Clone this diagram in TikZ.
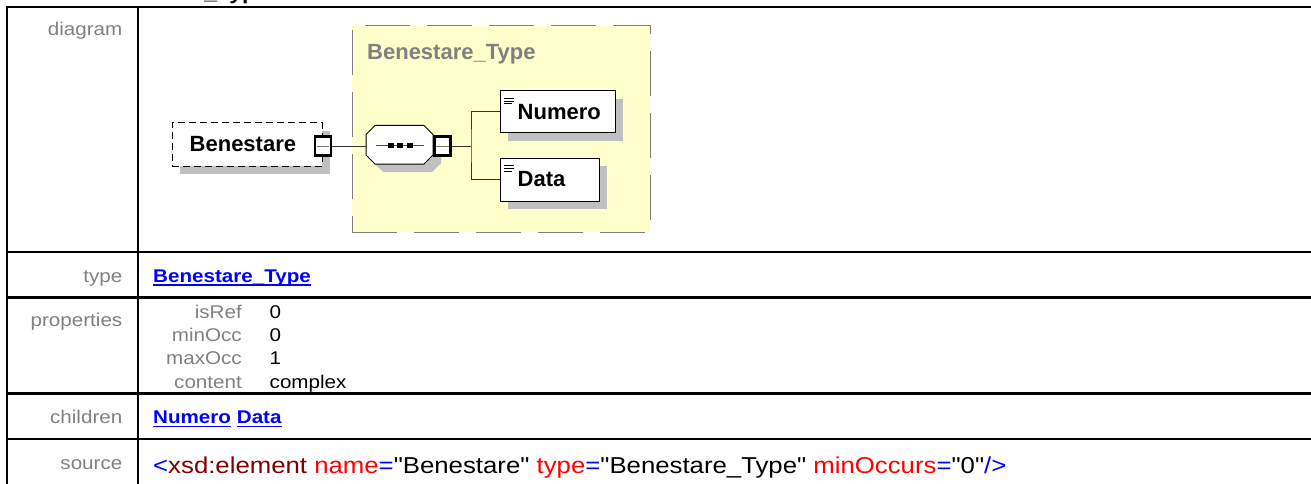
\documentclass[tikz,border=0pt]{standalone}
\usepackage{fontspec}
\setmainfont{Liberation Sans}
\newfontfamily\tblfont[FakeStretch=1.12]{Liberation Sans}
\usetikzlibrary{calc,shadows}
\definecolor{lblgray}{RGB}{128,128,128}
\definecolor{shadgray}{RGB}{192,192,192}
\definecolor{boxyellow}{RGB}{255,255,204}
\definecolor{xmaroon}{RGB}{128,0,0}
\definecolor{xred}{RGB}{255,0,0}
\definecolor{xblue}{RGB}{0,0,255}
\newcommand\qq{\symbol{34}}
\tikzset{
  tblline/.style={line width=2.6pt, black},
  rowlabel/.style={anchor=base east, inner sep=0, text=lblgray, font=\tblfont\fontsize{18.4}{22}\selectfont},
  propval/.style={anchor=base west, inner sep=0, text=black, font=\tblfont\fontsize{18.4}{22}\selectfont},
  link/.style={anchor=base west, inner sep=0, text=xblue, font=\tblfont\bfseries\fontsize{18.4}{22}\selectfont},
  uline/.style={xblue, line width=1.6pt},
  shad/.style={drop shadow={shadow xshift=8pt, shadow yshift=-8pt, fill=shadgray, opacity=1}},
  elembox/.style={draw=black, fill=white, line width=1pt, inner sep=0, shad},
  etext/.style={anchor=west, inner sep=0, font=\bfseries\fontsize{22}{26}\selectfont},
  minusbox/.style={draw=black, fill=white, line width=2.6pt, minimum width=16pt, minimum height=19pt, inner sep=0},
  minusline/.style={line width=1pt, black!55},
  conn/.style={line width=1pt, black!80},
  iconline/.style={line width=0.8pt, black},
}
\begin{document}
\begin{tikzpicture}[x=1pt,y=-1pt]
\useasboundingbox (0,0) rectangle (1311,484);

% cut-off title
\node[anchor=base west, inner sep=0, font=\tblfont\bfseries\fontsize{20.5}{24}\selectfont] (title) at (0,-0.5) {element Benestare\_Type/Benestare};

% table grid
\draw[tblline] (7,490) -- (7,7) -- (1320,7);
\draw[tblline] (138,7) -- (138,490);
\draw[tblline] (7,252) -- (1320,252);
\draw[tblline] (7,297.5) -- (1320,297.5);
\draw[tblline] (7,393.5) -- (1320,393.5);
\draw[tblline] (7,439) -- (1320,439);

% row labels
\node[rowlabel] (ldiag) at (122.5,36) {diagram};
\node[rowlabel] (ltype) at (122.5,282) {type};
\node[rowlabel] (lprop) at (122.5,326) {properties};
\node[rowlabel] (lchil) at (122.5,423) {children};
\node[rowlabel] (lsrc) at (122.5,469) {source};

% type
\node[link] (tlink) at (153,282) {Benestare\_Type};
\draw[uline] ($(tlink.base west)+(0,3)$) -- ($(tlink.base east)+(0,3)$);

% properties
\node[rowlabel] (k1) at (242,318) {isRef};
\node[rowlabel] (k2) at (242,341.3) {minOcc};
\node[rowlabel] (k3) at (242,364.6) {maxOcc};
\node[rowlabel] (k4) at (242,388) {content};
\node[propval] (v1) at (269.5,318) {0};
\node[propval] (v2) at (269.5,341.3) {0};
\node[propval] (v3) at (269.5,364.6) {1};
\node[propval] (v4) at (269.5,388) {complex};

% children
\node[link] (cnum) at (153,423) {Numero};
\node[link] (cdat) at (236.7,423) {Data};
\draw[uline] ($(cnum.base west)+(0,3.5)$) -- ($(cnum.base east)+(0,3.5)$);
\draw[uline] ($(cdat.base west)+(0,3.5)$) -- ($(cdat.base east)+(0,3.5)$);

% source
\node[anchor=base west, inner sep=0, font=\tblfont\fontsize{23}{27}\selectfont] (src) at (153,473) {\textcolor{xblue}{<}\textcolor{xmaroon}{xsd:element} \textcolor{xred}{name}\textcolor{xblue}{=}\qq Benestare\qq\ \textcolor{xred}{type}\textcolor{xblue}{=}\qq Benestare\_Type\qq\ \textcolor{xred}{minOccurs}\textcolor{xblue}{=}\qq 0\qq\textcolor{xblue}{/>}};

% ---------- diagram ----------
\node[draw=lblgray, fill=boxyellow, dash pattern=on 45pt off 17pt, line width=1pt, minimum width=298pt, minimum height=206pt, inner sep=0] (ctype) at (501,129) {};
\node[anchor=base west, inner sep=0, text=lblgray, font=\bfseries\fontsize{22}{26}\selectfont] (ctitle) at (367,60) {Benestare\_Type};

% Benestare element (optional: dashed)
\node[elembox, dash pattern=on 7pt off 4pt, minimum width=150pt, minimum height=43pt] (ben) at (247,144.5) {};
\node[etext] (bentext) at ([xshift=18pt]ben.west) {Benestare};
\node[minusbox] (m1) at (323,146) {};
\draw[minusline] ([xshift=3pt]m1.west) -- ([xshift=-3pt]m1.east);

% sequence compositor (octagon)
\fill[shadgray] (383,133.5) -- (432,133.5) -- (441,142.5) -- (441,163) -- (432,172) -- (383,172) -- (374,163) -- (374,142.5) -- cycle;
\filldraw[fill=white, draw=black, line width=1pt] (375,125.5) -- (424,125.5) -- (433,134.5) -- (433,155) -- (424,164) -- (375,164) -- (366,155) -- (366,134.5) -- cycle;
\coordinate (octW) at (366,146);
\coordinate (octE) at (433,146);
\coordinate (seqA) at (376,145);
\coordinate (seqB) at (424,145);
\draw[line width=1pt, black!70] (seqA) -- (seqB);
\foreach \cx in {390.5,400,409.5} {\fill[black] (\cx-3,142.5) rectangle (\cx+3,147.5);}
\node[minusbox] (m2) at (442.5,146) {};
\draw[minusline] ([xshift=3pt]m2.west) -- ([xshift=-3pt]m2.east);

% children elements
\node[elembox, minimum width=115pt, minimum height=42pt] (num) at (557.5,112) {};
\node[etext] (numtext) at ([xshift=18pt]num.west) {Numero};
\node[elembox, minimum width=99pt, minimum height=43pt] (dat) at (549.5,179.5) {};
\node[etext] (dattext) at ([xshift=18pt]dat.west) {Data};
\foreach \b in {num,dat} {
  \draw[iconline] ($(\b.north west)+(4,8)$) -- ($(\b.north west)+(14,8)$);
  \draw[iconline] ($(\b.north west)+(4,10.7)$) -- ($(\b.north west)+(14,10.7)$);
  \draw[iconline] ($(\b.north west)+(4,13.4)$) -- ($(\b.north west)+(12,13.4)$);
}

% connectors
\coordinate (br) at (471,146);
\draw[conn] (m1.east) -- (octW);
\draw[conn] (m2.east) -- (br);
\draw[conn] (num.west) -| (br) |- (dat.west);
\end{tikzpicture}
\end{document}
